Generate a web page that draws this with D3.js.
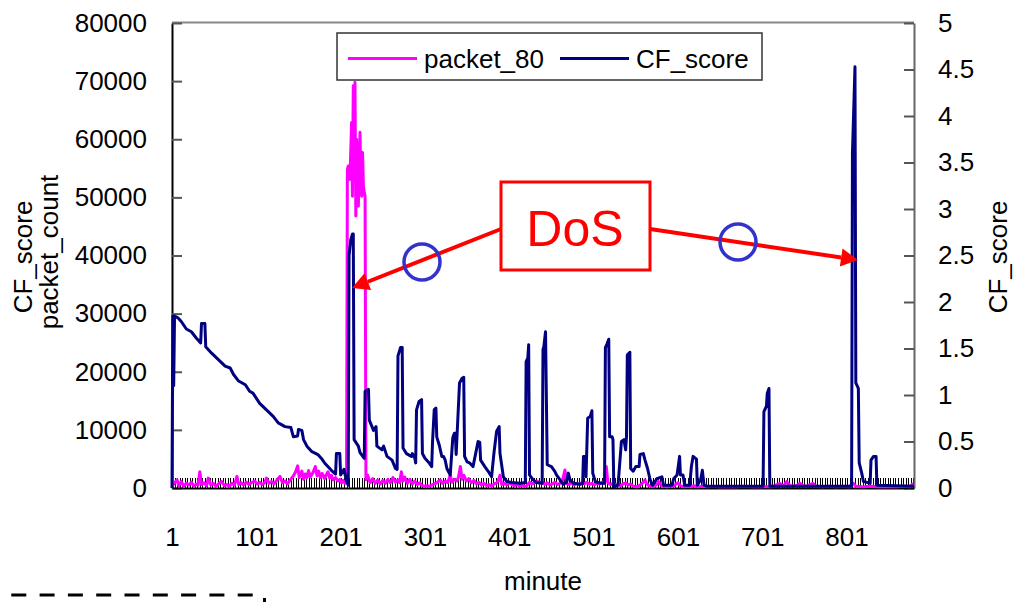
<!DOCTYPE html>
<html><head><meta charset="utf-8">
<script src="https://cdn.jsdelivr.net/npm/d3@7"></script>
<style>
body{margin:0;background:#fff;}
svg{display:block;font-family:"Liberation Sans",Arial,sans-serif;}
</style>
</head><body>
<svg id="c" width="1029" height="602"></svg>
<script>
// ---------- data ----------
const leftTicks = [0,10000,20000,30000,40000,50000,60000,70000,80000];
const rightTicks = [0,0.5,1,1.5,2,2.5,3,3.5,4,4.5,5];
const xTickLabels = [1,101,201,301,401,501,601,701,801];
const seriesNames = ["packet_80","CF_score"];
const annotationText = "DoS";

// CF_score: [minute, value]
const cfPoints = [[1,0],[2,1.85],[3,1.10],[4,1.85],[8,1.83],[12,1.79],[18,1.71],[24,1.68],[30,1.61],[35,1.56],[36,1.77],[40,1.77],[41,1.52],[48,1.45],[56,1.38],[64,1.31],[70,1.29],[74,1.22],[80,1.15],[88,1.11],[93,1.04],[97,1.02],[105,0.91],[113,0.84],[121,0.77],[127,0.70],[135,0.66],[142,0.65],[145,0.55],[150,0.56],[151,0.63],[155,0.62],[157,0.52],[161,0.45],[167,0.39],[174,0.36],[178,0.32],[182,0.27],[190,0.19],[195,0.15],[196,0.37],[200,0.37],[201,0.14],[205,0.20],[208,0.07],[210,0.03],[211,2.50],[213,2.67],[215,2.73],[216,2.73],[217,0.52],[222,0.45],[224,0.38],[229,0.32],[230,1.04],[234,1.06],[235,0.73],[240,0.62],[243,0.66],[244,0.45],[250,0.41],[252,0.45],[256,0.34],[262,0.30],[266,0.21],[268,0.20],[269,1.42],[272,1.51],[274,1.51],[275,0.43],[279,0.37],[285,0.34],[286,0.37],[289,0.32],[290,0.27],[291,0.84],[294,0.93],[297,0.95],[298,0.37],[301,0.32],[305,0.28],[309,0.23],[310,0.50],[312,0.84],[314,0.86],[315,0.55],[318,0.46],[321,0.34],[323,0.34],[325,0.30],[327,0.21],[331,0.14],[334,0.54],[336,0.59],[337,0.59],[338,0.36],[342,1.13],[345,1.18],[347,1.19],[348,0.34],[351,0.28],[354,0.27],[358,0.23],[362,0.41],[364,0.50],[366,0.49],[367,0.30],[372,0.23],[376,0.18],[380,0.12],[383,0.39],[386,0.61],[389,0.66],[390,0.37],[394,0.12],[398,0.07],[404,0.06],[414,0.05],[420,0.06],[421,1.36],[423,1.40],[424,1.54],[425,0.14],[429,0.09],[433,0.06],[440,0.05],[441,1.49],[442,1.52],[444,1.68],[446,0.25],[451,0.23],[455,0.18],[457,0.14],[461,0.09],[465,0.04],[469,0.06],[471,0.16],[473,0.09],[477,0.05],[485,0.04],[488,0.05],[489,0.34],[491,0.34],[492,0.12],[494,0.75],[497,0.77],[499,0.83],[500,0.16],[503,0.07],[509,0.05],[514,0.05],[515,1.51],[517,1.55],[519,1.60],[520,0.55],[523,0.55],[524,0.52],[525,0.01],[530,0.03],[534,0.50],[537,0.52],[539,0.41],[540,0.55],[541,1.43],[544,1.46],[545,0.21],[548,0.18],[551,0.23],[555,0.23],[556,0.36],[560,0.37],[562,0.30],[565,0.21],[568,0.09],[571,0.03],[576,0.10],[582,0.12],[584,0.03],[594,0.03],[596,0.10],[600,0.14],[603,0.34],[604,0.14],[607,0.14],[609,0.03],[615,0.03],[617,0.23],[619,0.34],[623,0.31],[624,0.03],[628,0.09],[630,0.19],[632,0.03],[635,0.02],[702,0.02],[703,0.82],[706,0.88],[707,1.02],[709,1.07],[710,0.02],[807,0.02],[808,3.60],[811,4.53],[812,1.13],[815,1.07],[816,0.27],[819,0.16],[821,0.07],[825,0.06],[829,0.05],[830,0.30],[833,0.34],[836,0.34],[837,0.03],[881,0.02]];

// packet_80: [minute, packets]
const pktPoints = [[1,300],[4,900],[7,1400],[9,400],[12,1100],[15,300],[18,800],[21,500],[24,1000],[27,300],[30,700],[32,500],[34,2800],[36,600],[39,900],[42,400],[44,1700],[47,500],[50,800],[53,300],[56,700],[60,1100],[63,400],[66,600],[69,300],[72,800],[75,500],[78,2000],[80,600],[83,900],[86,500],[89,1000],[92,600],[95,900],[99,1200],[102,700],[105,1000],[108,600],[111,900],[113,1700],[116,800],[119,1100],[122,700],[125,1300],[129,2000],[132,900],[135,1200],[138,700],[141,1300],[144,1900],[147,2600],[150,3800],[152,1800],[155,2900],[157,1500],[159,2400],[161,1800],[163,3000],[165,1900],[168,2600],[171,3700],[173,2100],[175,2900],[177,1800],[179,2500],[182,1600],[184,2300],[186,2800],[188,1700],[190,2200],[192,1400],[195,1800],[198,1200],[200,1500],[202,900],[204,1300],[206,800],[208,1200],
[209,54800],[210,55400],[212,53100],[214,62900],[215,50200],[216,69200],[217,56000],[218,69800],[219,46800],[220,60000],[221,54800],[222,48500],[224,61200],[225,52000],[226,50200],[227,57700],[228,52000],[229,50800],[230,50200],
[231,1400],[233,2200],[236,900],[239,1600],[242,800],[245,1400],[248,700],[251,1300],[254,800],[257,1500],[260,900],[263,1800],[266,1000],[269,1400],[271,900],[273,2800],[275,1200],[277,1900],[280,800],[283,1500],[286,700],[289,1200],[292,600],[295,900],[297,500],[300,300],[303,400],[306,300],[309,500],[312,700],[315,900],[319,1400],[322,800],[325,1200],[328,900],[331,2200],[333,1000],[336,1500],[339,1200],[341,2000],[343,3700],[345,1500],[347,2200],[350,1200],[353,1600],[356,900],[359,1300],[362,700],[365,1000],[368,500],[371,800],[374,400],[377,600],[380,300],[383,700],[386,900],[388,1300],[390,2200],[392,600],[395,800],[398,500],[401,900],[404,600],[407,400],[410,700],[413,300],[416,500],[419,300],[422,400],[425,1000],[428,700],[431,900],[434,1200],[437,800],[440,1000],[443,600],[446,900],[449,500],[452,700],[455,1000],[458,600],[461,800],[464,1200],[467,3100],[469,800],[472,600],[475,900],[478,500],[481,800],[484,600],[487,900],[490,700],[493,1000],[496,600],[499,800],[502,500],[505,900],[508,700],[511,1000],[514,800],[516,3700],[518,900],[521,600],[524,800],[527,500],[530,600],[533,400],[536,700],[539,900],[542,500],[545,700],[548,300],[551,200],[554,300],[557,600],[560,1000],[562,1400],[564,700],[567,400],[570,200],[573,300],[576,600],[578,1100],[581,500],[584,300],[588,200],[592,400],[596,300],[599,700],[601,900],[604,400],[608,200],[612,300],[616,200],[620,400],[625,200],[630,300],[636,200],[642,300],[650,200],[660,250],[670,200],[680,300],[690,200],[700,250],[710,200],[716,400],[722,800],[726,300],[730,1100],[734,400],[740,300],[746,800],[750,300],[755,400],[761,800],[765,300],[772,200],[780,300],[788,200],[796,300],[804,200],[809,800],[812,300],[820,200],[830,300],[840,200],[850,250],[860,200],[870,300],[876,200],[880,800]];

// ---------- layout ----------
const svg = d3.select("#c");
const L = 172, R = 914, T = 23, B = 488;
const FS = 26;
const x = d3.scaleLinear().domain([1, 881]).range([L, R]);
const yL = d3.scaleLinear().domain([0, 80000]).range([B, T]);
const yR = d3.scaleLinear().domain([0, 5]).range([B, T]);

// frame (top)
svg.append("line").attr("x1",L).attr("x2",R).attr("y1",T-0.5).attr("y2",T-0.5).attr("stroke","#888").attr("stroke-width",2);

// dense category ticks
const gTick = svg.append("g").attr("transform",`translate(0,${B})`)
  .call(d3.axisBottom(x).tickValues(d3.range(1, 882, 3)).tickSize(-10).tickFormat("").tickSizeOuter(0));
gTick.select(".domain").remove();
gTick.selectAll("line").attr("stroke","#000").attr("stroke-width",1).attr("shape-rendering","crispEdges");

// left axis
const gL = svg.append("g").attr("transform",`translate(${L},0)`)
  .call(d3.axisLeft(yL).tickValues(leftTicks).tickSizeInner(-10).tickSizeOuter(0).tickPadding(25).tickFormat(d3.format("d")));
gL.select(".domain").attr("stroke","#000").attr("stroke-width",2);
gL.selectAll(".tick line").attr("stroke","#555").attr("stroke-width",2);
gL.selectAll("text").attr("font-size",FS).attr("fill","#000").attr("font-family","Liberation Sans, Arial, sans-serif");

// right axis
const gR = svg.append("g").attr("transform",`translate(${R},0)`)
  .call(d3.axisRight(yR).tickValues(rightTicks).tickSizeInner(-10).tickSizeOuter(0).tickPadding(24).tickFormat(d => String(d)));
gR.select(".domain").attr("stroke","#666").attr("stroke-width",2);
gR.selectAll(".tick line").attr("stroke","#555").attr("stroke-width",2);
gR.selectAll("text").attr("font-size",FS).attr("fill","#000").attr("font-family","Liberation Sans, Arial, sans-serif");

// bottom axis
const gB = svg.append("g").attr("transform",`translate(0,${B})`)
  .call(d3.axisBottom(x).tickValues(xTickLabels).tickSize(0).tickPadding(40).tickFormat(d => String(d)));
gB.select(".domain").attr("stroke","#000").attr("stroke-width",2);
gB.selectAll("text").attr("font-size",FS).attr("fill","#000").attr("font-family","Liberation Sans, Arial, sans-serif");

// series
const linePkt = d3.line().x(d => x(d[0])).y(d => yL(d[1]));
const lineCF = d3.line().x(d => x(d[0])).y(d => yR(d[1]));
svg.append("path").datum(pktPoints).attr("d",linePkt).attr("fill","none").attr("stroke","#ff00ff").attr("stroke-width",3).attr("stroke-linejoin","round");
svg.append("path").datum(cfPoints).attr("d",lineCF).attr("fill","none").attr("stroke","#000080").attr("stroke-width",3).attr("stroke-linejoin","round");

// axis titles
svg.append("text").attr("transform","translate(32,257) rotate(-90)").attr("text-anchor","middle").attr("font-size",FS).text("CF_score");
svg.append("text").attr("transform","translate(58,252) rotate(-90)").attr("text-anchor","middle").attr("font-size",FS).text("packet_count");
svg.append("text").attr("transform","translate(1007,257) rotate(-90)").attr("text-anchor","middle").attr("font-size",FS).text("CF_score");
svg.append("text").attr("x",543).attr("y",590).attr("text-anchor","middle").attr("font-size",FS).text("minute");

// legend
const lg = svg.append("g");
lg.append("rect").attr("x",337).attr("y",33).attr("width",425).attr("height",47).attr("fill","#fff").attr("stroke","#333").attr("stroke-width",1.5);
const colors = ["#ff00ff","#000080"];
const lx = [348, 560];
seriesNames.forEach((n,i) => {
  lg.append("line").attr("x1",lx[i]).attr("x2",lx[i]+69).attr("y1",58.5).attr("y2",58.5).attr("stroke",colors[i]).attr("stroke-width",3);
  lg.append("text").attr("x",lx[i]+76).attr("y",67.5).attr("font-size",FS).text(n);
});

// annotations
const red = "#ff0000";
function arrow(x1,y1,x2,y2){
  const ang = Math.atan2(y2-y1, x2-x1), len = 17, hw = 9;
  const bx = x2 - len*Math.cos(ang), by = y2 - len*Math.sin(ang);
  svg.append("line").attr("x1",x1).attr("y1",y1).attr("x2",bx).attr("y2",by).attr("stroke",red).attr("stroke-width",4);
  const px = -Math.sin(ang)*hw, py = Math.cos(ang)*hw;
  svg.append("path").attr("d",`M${x2},${y2}L${bx+px},${by+py}L${bx-px},${by-py}Z`).attr("fill",red);
}
arrow(501,229,352,288);
arrow(650,229,858,260);
svg.append("rect").attr("x",501).attr("y",182).attr("width",149).attr("height",88).attr("fill","#fff").attr("stroke",red).attr("stroke-width",3);
svg.append("text").attr("x",575).attr("y",246).attr("text-anchor","middle").attr("font-size",50).attr("fill",red).text(annotationText);
svg.append("circle").attr("cx",422).attr("cy",262).attr("r",18).attr("fill","none").attr("stroke","#3333cc").attr("stroke-width",3.5);
svg.append("circle").attr("cx",738).attr("cy",242).attr("r",18).attr("fill","none").attr("stroke","#3333cc").attr("stroke-width",3.5);

// dashed line artifact bottom-left
svg.append("line").attr("x1",-17).attr("x2",260).attr("y1",595).attr("y2",595).attr("stroke","#000").attr("stroke-width",3).attr("stroke-dasharray","15 13.3");
svg.append("rect").attr("x",263).attr("y",598).attr("width",3).attr("height",4).attr("fill","#000");
</script>
</body></html>
